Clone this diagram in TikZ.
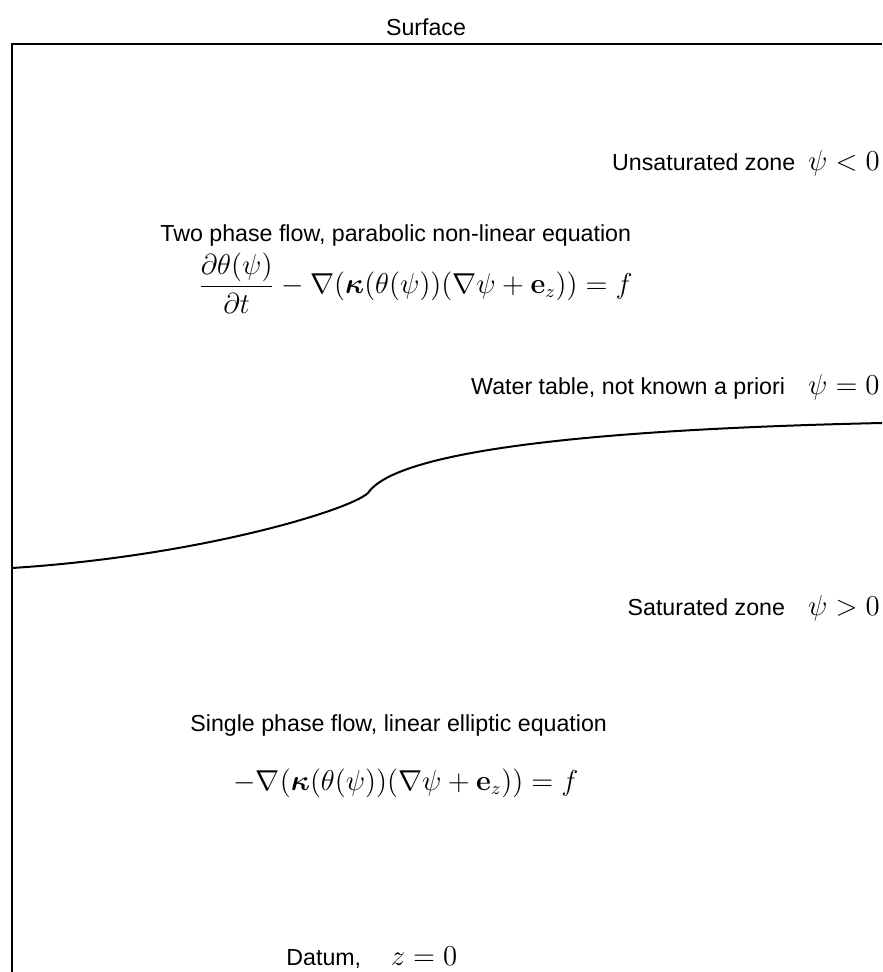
\documentclass[tikz,border=0pt]{standalone}
\usepackage{amsmath}
\usepackage[no-math]{fontspec}
\setmainfont{Liberation Sans}
\usetikzlibrary{calc}
\newcommand{\bigmath}[1]{{\fontsize{13.6}{16}\selectfont$#1$}}

\begin{document}
\begin{tikzpicture}[x=0.5pt,y=-0.5pt,
  every node/.style={inner sep=0pt,font=\fontsize{11.6}{14}\selectfont},
  eqn/.style={anchor=west,font=\fontsize{13.3}{16}\selectfont}]
  \useasboundingbox (0,0) rectangle (882,972);

  % 坐标点定义
  \coordinate (O) at (12,44);
  \coordinate (R) at (882,44);
  \coordinate (D) at (12,972);
  \coordinate (W_1) at (12,568);
  \coordinate (W_2) at (368,493);
  \coordinate (W_3) at (882,423);

  % 几何元素
  \draw[line width=1pt] (R) -- (O) -- (D);
  \draw[line width=1pt] (W_1) .. controls (200,556) and (350,510) .. (W_2)
    .. controls (385,468) and (470,432) .. (W_3);

  % 文字标签
  \node (surf) at (426,27) {Surface};
  \node [anchor=east] (unsat) at (880,163) {Unsaturated zone \ \bigmath{\psi<0}};
  \node [anchor=west] (two) at (160,236) {Two phase flow, parabolic non-linear equation};
  \node [eqn] (eqtwo) at (198,283)
    {$\dfrac{\partial\theta(\psi)}{\partial t}-\nabla(\boldsymbol{\kappa}(\theta(\psi))(\nabla\psi+\mathbf{e}_z))=f$};
  \node [anchor=east] (wt) at (880,387) {Water table, not known a priori\quad\bigmath{\psi=0}};
  \node [anchor=east] (sat) at (880,608) {Saturated zone\quad\bigmath{\psi>0}};
  \node [anchor=west] (one) at (190,725) {Single phase flow, linear elliptic equation};
  \node [eqn] (eqone) at (233,783)
    {$-\nabla(\boldsymbol{\kappa}(\theta(\psi))(\nabla\psi+\mathbf{e}_z))=f$};
  \node [anchor=west] (datum) at (286,958) {Datum, \quad\bigmath{z=0}};
\end{tikzpicture}
\end{document}
